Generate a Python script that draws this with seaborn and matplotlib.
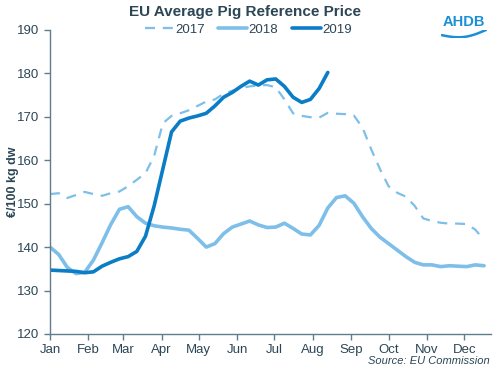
import numpy as np
import pandas as pd
import matplotlib.pyplot as plt
import seaborn as sns

# --- data (weekly prices, €/100 kg dw) ---------------------------
weeks_2017 = list(range(51))
price_2017 = [152.2, 152.4, 151.3, 152.0, 152.7, 152.2, 151.8, 152.4, 152.8, 154.0,
              155.5, 157.0, 161.0, 168.5, 170.2, 170.8, 171.5, 172.5, 173.5, 174.0,
              175.3, 176.0, 176.6, 177.0, 177.2, 177.3, 176.8, 174.0, 170.8, 170.2,
              169.9, 169.8, 170.9, 170.7, 170.6, 170.3, 167.5, 162.5, 158.0, 154.0,
              152.5, 151.6, 149.5, 146.6, 146.0, 145.6, 145.4, 145.4, 145.3, 144.0,
              141.6]

weeks_2018 = list(range(51))
price_2018 = [140.0, 138.3, 135.3, 133.9, 134.2, 137.0, 141.0, 145.2, 148.7, 149.3,
              147.0, 145.5, 144.9, 144.6, 144.4, 144.1, 143.9, 142.0, 140.0, 140.8,
              143.1, 144.6, 145.3, 146.0, 145.1, 144.5, 144.6, 145.5, 144.3, 143.0,
              142.8, 145.0, 149.0, 151.4, 151.8, 150.1, 147.0, 144.3, 142.3, 140.8,
              139.3, 137.8, 136.5, 135.9, 135.9, 135.5, 135.7, 135.6, 135.5, 135.9,
              135.7]

weeks_2019 = list(range(33))
price_2019 = [134.7, 134.6, 134.5, 134.4, 134.1, 134.3, 135.6, 136.5, 137.3, 137.8,
              139.0, 142.5, 149.5, 158.0, 166.5, 169.0, 169.7, 170.2, 170.8, 172.5,
              174.5, 175.6, 177.0, 178.2, 177.3, 178.5, 178.7, 177.0, 174.5, 173.3,
              174.0, 176.5, 180.2]

months = ["Jan", "Feb", "Mar", "Apr", "May", "Jun",
          "Jul", "Aug", "Sep", "Oct", "Nov", "Dec"]
month_start_day = [0, 31, 59, 90, 120, 151, 181, 212, 243, 273, 304, 334]

# --- style ----------------------------------------------------
sns.set_style("white")
plt.rcParams["font.family"] = ["Liberation Sans", "DejaVu Sans"]

txt = "#2c4656"
spine = "#5f7d8c"
light = "#7dbfe9"
dark = "#0b7cc6"

fig = plt.figure(figsize=(5, 3.69), dpi=100)
ax = fig.add_axes([0.1, 0.095, 0.882, 0.824])

df17 = pd.DataFrame({"week": weeks_2017, "price": price_2017})
df18 = pd.DataFrame({"week": weeks_2018, "price": price_2018})
df19 = pd.DataFrame({"week": weeks_2019, "price": price_2019})

sns.lineplot(data=df17, x="week", y="price", ax=ax, color=light, lw=1.6,
             label="2017")
ax.lines[-1].set_dashes([4.5, 3.5])
sns.lineplot(data=df18, x="week", y="price", ax=ax, color=light, lw=2.6,
             label="2018")
sns.lineplot(data=df19, x="week", y="price", ax=ax, color=dark, lw=2.6,
             label="2019")

ax.set_xlim(0, 50.8)
ax.set_ylim(120, 190)
ax.set_yticks(range(120, 191, 10))
ax.set_xticks([d / 7 for d in month_start_day])
ax.set_xticklabels(months)
ax.set_xlabel("")
ax.set_ylabel("€/100 kg dw", fontsize=9, fontweight="bold", color=txt)
ax.yaxis.set_label_coords(-0.07, 0.5)

for s in ["top", "right"]:
    ax.spines[s].set_visible(False)
for s in ["left", "bottom"]:
    ax.spines[s].set_color(spine)
    ax.spines[s].set_linewidth(1.0)
ax.tick_params(axis="both", colors=spine, labelcolor=txt, labelsize=9.5,
               length=4, width=1, direction="out", bottom=True, left=True)
ax.tick_params(axis="x", pad=3)

ax.legend(loc="center", bbox_to_anchor=(0.45, 1.0), ncol=3, frameon=False,
          fontsize=9.5, handlelength=2.2, handletextpad=0.1, columnspacing=1.0,
          labelcolor=txt, borderaxespad=0)

fig.text(0.49, 0.967, "EU Average Pig Reference Price", ha="center", va="center",
         fontsize=11, fontweight="bold", color=txt)
fig.text(0.98, 0.022, "Source: EU Commission", ha="right", va="center",
         fontsize=8, style="italic", color=txt)

# AHDB logo
fig.text(0.927, 0.94, "AHDB", ha="center", va="center", fontsize=10.5,
         fontweight="bold", color="#1b8fd6")
lx = fig.add_axes([0.882, 0.898, 0.092, 0.022])
t = np.linspace(0, 1, 50)
lx.plot(t, 0.6 * t - 0.5 * np.sin(np.pi * t), color="#1b8fd6", lw=1.8)
lx.set_xlim(-0.02, 1.02)
lx.axis("off")

fig.savefig("out.png", dpi=100)
